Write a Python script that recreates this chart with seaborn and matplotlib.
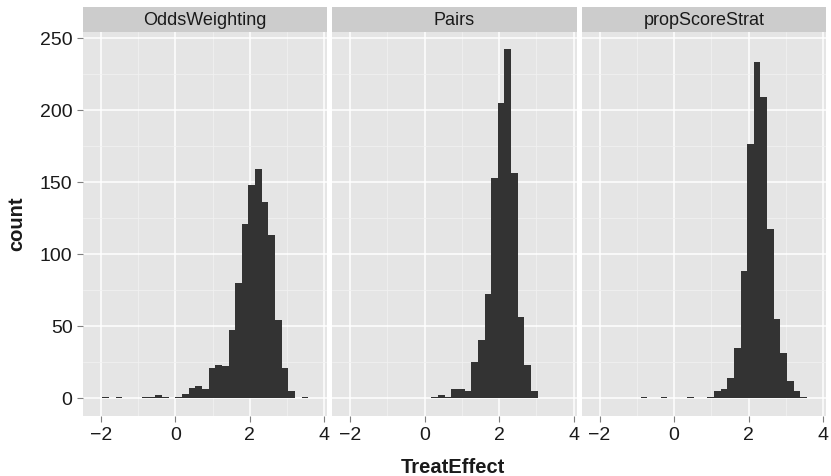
import matplotlib
matplotlib.use("Agg")
import matplotlib.pyplot as plt
import numpy as np
import pandas as pd
import seaborn as sns
from matplotlib.patches import Rectangle

# histogram bins start at 0, width
binwidth = 0.1785

methods = ["OddsWeighting", "Pairs", "propScoreStrat"]

# bin index k means the bin [k*binwidth, (k+1)*binwidth]
odds_bins = [-11, -9, -5, -4, -3, -2, 0, 1, 2, 3, 4, 5, 6, 7, 8, 9, 10, 11,
             12, 13, 14, 15, 16, 17, 19]
odds_counts = [1, 1, 1, 1, 2, 1, 1, 3, 7, 8, 6, 21, 23, 22, 47, 80, 121, 148,
               159, 136, 113, 54, 21, 5, 1]

pairs_bins = [1, 2, 3, 4, 5, 6, 7, 8, 9, 10, 11, 12, 13, 14, 15, 16]
pairs_counts = [1, 2, 1, 6, 6, 5, 25, 40, 72, 153, 205, 242, 156, 56, 23, 5]

strat_bins = [-5, -2, 2, 5, 6, 7, 8, 9, 10, 11, 12, 13, 14, 15, 16, 17, 18, 19]
strat_counts = [1, 1, 1, 1, 5, 6, 14, 35, 88, 176, 233, 209, 117, 55, 31, 12,
                5, 1]

x_ticks = [-2, 0, 2, 4]
y_ticks = [0, 50, 100, 150, 200, 250]

# build a long table for the facet grid
rows = []
for name, bins, counts in zip(methods,
                              [odds_bins, pairs_bins, strat_bins],
                              [odds_counts, pairs_counts, strat_counts]):
    for k, c in zip(bins, counts):
        rows.append({"method": name, "TreatEffect": (k + 0.5) * binwidth, "count": c})
df = pd.DataFrame(rows)

plt.rcParams['font.family'] = ['Liberation Sans', 'DejaVu Sans']

g = sns.FacetGrid(df, col="method", col_order=methods, sharex=True, sharey=True)
g.map_dataframe(sns.histplot, x="TreatEffect", weights="count",
                binwidth=binwidth, binrange=(-13 * binwidth, 21 * binwidth),
                color="#333333", alpha=1, linewidth=0)

fig = g.figure
fig.set_size_inches(8.31, 4.77)
W, H = 831, 477
top_px, bot_px = 33, 417
fig.subplots_adjust(left=83 / W, right=826 / W, bottom=1 - bot_px / H,
                    top=1 - top_px / H, wspace=5 / 244)
g.set_titles("")
g.set_axis_labels("", "")

strip_h = 25 / (bot_px - top_px)
for i, (ax, name) in enumerate(zip(g.axes.flat, methods)):
    ax.set_facecolor("#E5E5E5")
    for s in ax.spines.values():
        s.set_visible(False)
    ax.set_xlim(-2.48, 4.08)
    ax.set_ylim(-12.5, 254)
    ax.set_xticks(x_ticks)
    ax.set_xticklabels([f"{t}".replace("-", "\u2212") for t in x_ticks])
    ax.set_xticks([-1, 1, 3], minor=True)
    ax.set_yticks(y_ticks)
    ax.set_yticks([25, 75, 125, 175, 225], minor=True)
    ax.grid(which="major", color="white", linewidth=1.1)
    ax.grid(which="minor", color="#F2F2F2", linewidth=0.5)
    ax.set_axisbelow(True)
    ax.tick_params(which="major", length=4, width=0.8, color="#7F7F7F",
                   labelsize=14, labelcolor="#1A1A1A", pad=3.5)
    ax.tick_params(which="minor", length=0)
    if i > 0:
        ax.tick_params(axis="y", left=False, labelleft=False)
    else:
        ax.tick_params(axis="y", labelleft=True)
    # ggplot-style strip above each panel
    ax.add_patch(Rectangle((0, 1), 1, strip_h, transform=ax.transAxes,
                           facecolor="#CCCCCC", edgecolor="none", clip_on=False))
    ax.text(0.5, 1 + strip_h / 2, name, transform=ax.transAxes, ha="center",
            va="center", fontsize=13, color="#1A1A1A")

fig.text(17 / W, 1 - 224 / H, "count", rotation=90, ha="center", va="center",
         fontsize=14.5, fontweight="bold", color="#1A1A1A")
fig.text(453 / W, 1 - 468 / H, "TreatEffect", ha="center", va="center",
         fontsize=14.5, fontweight="bold", color="#1A1A1A")

fig.savefig("out.png", dpi=100)
